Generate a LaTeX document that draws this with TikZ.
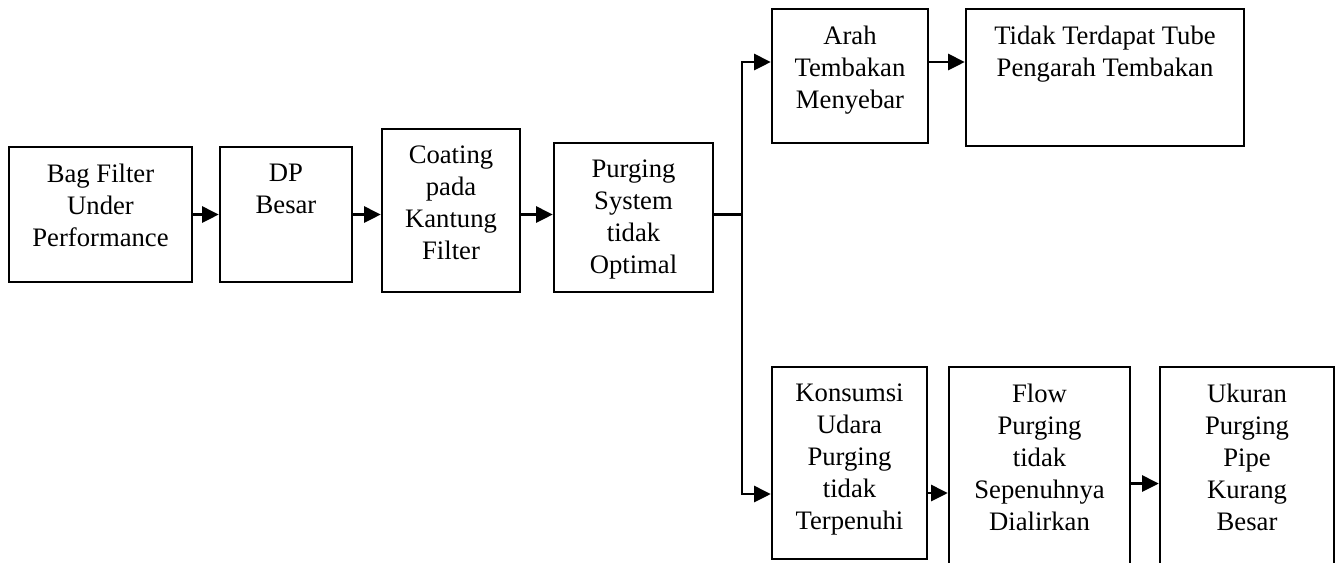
\documentclass[tikz,border=0pt]{standalone}
\usepackage{fontspec}
\setmainfont{Liberation Serif}
\usetikzlibrary{positioning,arrows.meta}
\begin{document}
\begin{tikzpicture}[x=0.75pt,y=-0.75pt,font=\fontsize{20}{24}\selectfont,node distance=13.5pt]
  \tikzset{
    blk/.style={draw,line width=1.8pt,inner sep=0pt},
    txt/.style={align=center,inner sep=0pt},
    ar/.style={-{Triangle[length=12.5pt,width=12pt]},line width=1.8pt}
  }
  \useasboundingbox (0,0) rectangle (1341,562);

  % main row
  \node[blk,minimum width=137.25pt,minimum height=101.25pt] (b1) at (100.5,214.5) {};
  \node[blk,minimum width=99pt,minimum height=101.25pt] (b2) at (286,214.5) {};
  \node[blk,minimum width=103.5pt,minimum height=122.25pt] (b3) at (451,210.5) {};
  \node[blk,minimum width=119.25pt,minimum height=111.75pt] (b4) at (633.5,217.5) {};

  % upper branch
  \node[blk,minimum width=117pt,minimum height=100.5pt] (b5) at (850,76) {};
  \node[blk,minimum width=208.5pt,minimum height=102.75pt] (b6) at (1105,77.5) {};

  % lower branch
  \node[blk,minimum width=116.25pt,minimum height=144pt] (b7) at (849.5,463) {};
  \node[blk,minimum width=135.75pt,minimum height=174.75pt] (b8) at (1039.5,483.5) {};
  \node[blk,minimum width=130.5pt,minimum height=174.75pt] (b9) at (1247,483.5) {};

  \node[txt,below=of b1.north] (t1) {Bag Filter\\Under\\Performance};
  \node[txt,below=of b2.north] (t2) {DP\\Besar};
  \node[txt,below=of b3.north] (t3) {Coating\\pada\\Kantung\\Filter};
  \node[txt,below=of b4.north] (t4) {Purging\\System\\tidak\\Optimal};
  \node[txt,below=of b5.north] (t5) {Arah\\Tembakan\\Menyebar};
  \node[txt,below=of b6.north] (t6) {Tidak Terdapat Tube\\Pengarah Tembakan};
  \node[txt,below=of b7.north] (t7) {Konsumsi\\Udara\\Purging\\tidak\\Terpenuhi};
  \node[txt,below=of b8.north] (t8) {Flow\\Purging\\tidak\\Sepenuhnya\\Dialirkan};
  \node[txt,below=of b9.north] (t9) {Ukuran\\Purging\\Pipe\\Kurang\\Besar};

  \draw[ar] (b1.east) -- (b1.east -| b2.west);
  \draw[ar] (b2.east) -- (b2.east -| b3.west);
  \draw[ar] (b2.east -| b3.east) -- (b2.east -| b4.west);
  \draw[line width=1.8pt] (b2.east -| b4.east) -- ++(28,0) coordinate (jn);
  \draw[ar] (jn) |- ([yshift=10.5pt]b5.west);
  \draw[ar] (jn) |- ([yshift=-23.25pt]b7.west);
  \draw[ar] ([yshift=10.5pt]b5.east) -- ([yshift=10.5pt]b5.east -| b6.west);
  \draw[ar] ([yshift=-22.5pt]b7.east) -- ([yshift=-22.5pt]b7.east -| b8.west);
  \draw[ar] (b8.east) -- (b8.east -| b9.west);
\end{tikzpicture}
\end{document}
